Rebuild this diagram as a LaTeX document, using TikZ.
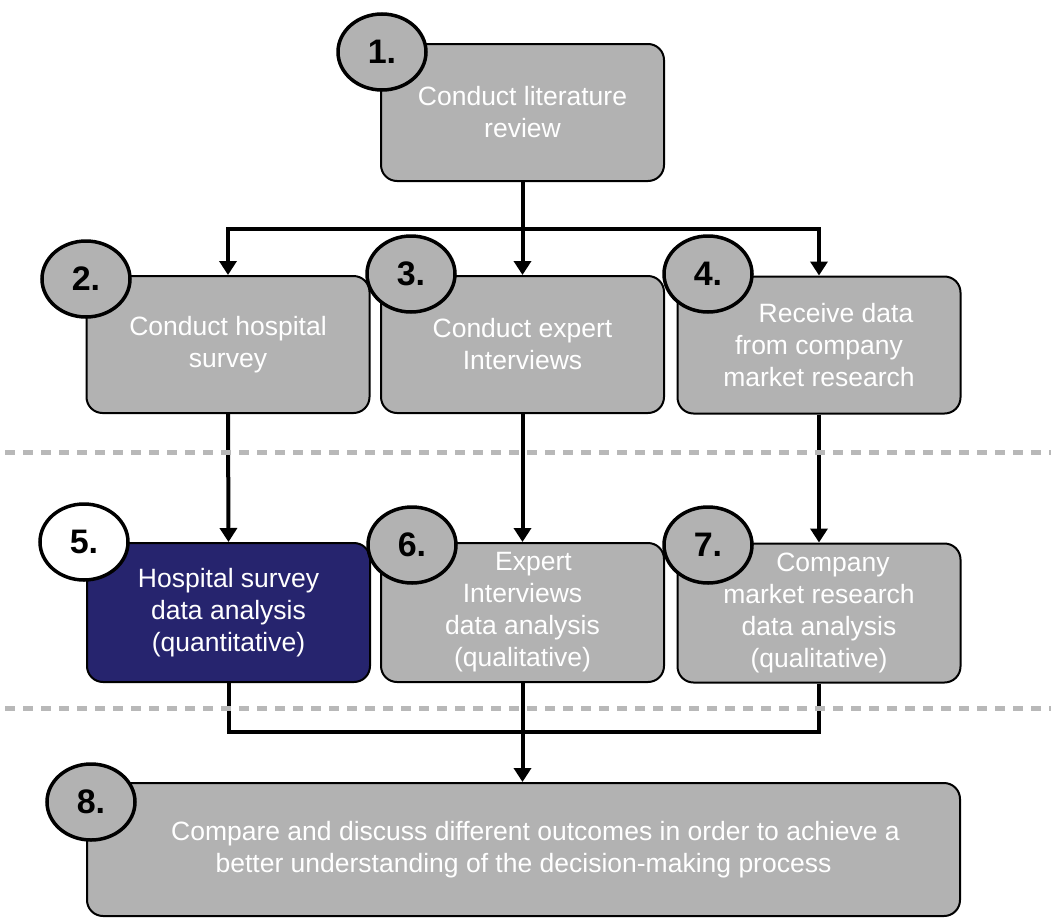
\documentclass[tikz,border=0pt]{standalone}
\usepackage{fontspec}
\setmainfont{Liberation Sans}
\usetikzlibrary{arrows.meta,shapes.geometric}
\definecolor{boxgray}{RGB}{178,178,178}
\definecolor{navy}{RGB}{38,36,110}
\definecolor{dashgray}{RGB}{184,184,184}
\tikzset{
  box/.style={draw=black, line width=2pt, rounded corners=16pt, fill=boxgray,
    text=white, align=center, inner sep=0pt,
    font=\fontsize{26.5}{32}\selectfont, minimum width=283pt, minimum height=137pt},
  numcirc/.style={ellipse, draw=black, line width=3.5pt, fill=boxgray, inner sep=0pt,
    minimum width=88pt, minimum height=76pt, font=\bfseries\fontsize{34}{34}\selectfont},
  conn/.style={line width=4pt},
  arr/.style={line width=4pt, -{Triangle[width=17pt,length=14pt]}},
  sepline/.style={dashgray, line width=5pt, dash pattern=on 10pt off 8pt}
}
\begin{document}
\begin{tikzpicture}[x=1pt,y=-1pt]
\useasboundingbox (0,0) rectangle (1051,918);
% boxes
\node[box] (b1) at (522.5,112.5) {Conduct literature\\review};
\node[box] (b2) at (228,344.5) {Conduct hospital\\survey};
\node[box] (b3) at (522.5,344.5) {Conduct expert\\Interviews};
\node[box] (b4) at (819,345) {\hspace*{34pt}Receive data\\from company\hspace*{18pt}\\market research};
\node[box, fill=navy, minimum height=139pt] (b5) at (228.5,612.5) {Hospital survey\\data analysis\\(quantitative)};
\node[box, minimum height=139pt] (b6) at (522.5,612.5) {\hspace*{22pt}Expert\\Interviews\\data analysis\\(qualitative)};
\node[box, minimum height=139pt] (b7) at (819,613) {\hspace*{28pt}Company\\market research\\data analysis\\(qualitative)};
\node[box, minimum width=873pt, minimum height=133pt] (b8) at (523.5,849.5) {\hspace*{24pt}Compare and discuss different outcomes in order to achieve a\\better understanding of the decision-making process};
% numbers
\node[numcirc] (n1) at (382,52) {1.};
\node[numcirc] (n2) at (86,279) {2.};
\node[numcirc] (n3) at (411,274) {3.};
\node[numcirc] (n4) at (708,274) {4.};
\node[numcirc, fill=white] (n5) at (84,542) {5.};
\node[numcirc] (n6) at (412,545) {6.};
\node[numcirc] (n7) at (708,545) {7.};
\node[numcirc] (n8) at (91,802) {8.};
% connectors
\coordinate (j1) at (522.5,229);
\coordinate (j2) at (522.5,732);
\draw[conn] (b1.south) -- (j1);
\draw[arr] (j1) -| (b2.north);
\draw[arr] (j1) -- (b3.north);
\draw[arr] (j1) -| (b4.north);
\draw[arr] (b2.south) -- (b5.north);
\draw[arr] (b3.south) -- (b6.north);
\draw[arr] (b4.south) -- (b7.north);
\draw[conn] (b5.south) |- (j2);
\draw[conn] (b7.south) |- (j2);
\draw[arr] (b6.south) -- (b6.south |- b8.north);
% separators
\draw[sepline] (5,452) -- (1051,452);
\draw[sepline] (5,708) -- (1051,708);
\end{tikzpicture}
\end{document}
